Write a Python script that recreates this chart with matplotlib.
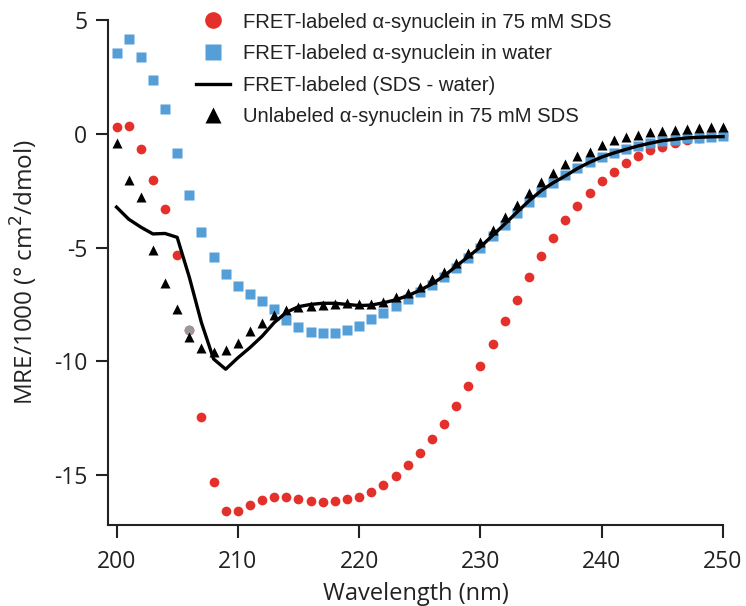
import matplotlib
matplotlib.use("Agg")
import matplotlib.pyplot as plt
from matplotlib.lines import Line2D

plt.rcParams['axes.unicode_minus'] = False

wavelength = list(range(200, 251))

mre_fret_sds = [0.32, 0.36, -0.66, -2.02, -3.29, -5.31, -8.63, -12.46, -15.32, -16.57,
                -16.57, -16.30, -16.11, -15.97, -15.97, -16.05, -16.16, -16.20, -16.13, -16.05,
                -15.98, -15.76, -15.43, -15.03, -14.58, -14.02, -13.41, -12.75, -11.97, -11.11,
                -10.19, -9.24, -8.24, -7.31, -6.29, -5.38, -4.56, -3.80, -3.16, -2.59,
                -2.09, -1.68, -1.29, -0.98, -0.73, -0.56, -0.40, -0.26, -0.18, -0.10, -0.05]

mre_fret_water = [3.54, 4.17, 3.39, 2.37, 1.08, -0.84, -2.71, -4.31, -5.41, -6.16,
                  -6.70, -7.06, -7.36, -7.71, -8.19, -8.48, -8.70, -8.77, -8.75, -8.63,
                  -8.44, -8.15, -7.87, -7.57, -7.25, -6.95, -6.65, -6.30, -5.90, -5.45,
                  -5.00, -4.50, -4.00, -3.50, -3.00, -2.55, -2.15, -1.80, -1.50, -1.22,
                  -1.00, -0.82, -0.66, -0.52, -0.42, -0.33, -0.26, -0.20, -0.16, -0.13, -0.10]

mre_difference = [-3.22, -3.75, -4.10, -4.40, -4.38, -4.55, -6.30, -8.30, -9.90, -10.35,
                  -9.85, -9.40, -8.90, -8.30, -7.85, -7.60, -7.50, -7.45, -7.45, -7.50,
                  -7.55, -7.53, -7.43, -7.30, -7.12, -6.88, -6.60, -6.25, -5.82, -5.40,
                  -4.97, -4.47, -3.97, -3.45, -2.95, -2.50, -2.15, -1.85, -1.52, -1.25,
                  -1.02, -0.84, -0.68, -0.53, -0.41, -0.30, -0.24, -0.18, -0.15, -0.13, -0.12]

mre_unlabeled_sds = [-0.41, -2.05, -2.78, -5.12, -6.55, -7.72, -8.95, -9.43, -9.61, -9.50,
                     -9.21, -8.67, -8.31, -7.97, -7.75, -7.60, -7.55, -7.52, -7.50, -7.43,
                     -7.46, -7.46, -7.38, -7.17, -6.99, -6.73, -6.40, -6.07, -5.70, -5.26,
                     -4.75, -4.21, -3.66, -3.14, -2.60, -2.12, -1.71, -1.32, -0.98, -0.78,
                     -0.51, -0.29, -0.15, -0.03, 0.07, 0.11, 0.18, 0.22, 0.26, 0.29, 0.32]

labels = ["FRET-labeled \u03b1-synuclein in 75 mM SDS",
          "FRET-labeled \u03b1-synuclein in water",
          "FRET-labeled (SDS - water)",
          "Unlabeled \u03b1-synuclein in 75 mM SDS"]

x_ticks = [200, 210, 220, 230, 240, 250]
y_ticks = [5, 0, -5, -10, -15]

RED = '#e4302a'
BLUE = '#559fd8'
INK = '#222222'

fig = plt.figure(figsize=(7.46, 6.06), dpi=100)
ax = fig.add_axes([0.1448, 0.1337, 0.8244, 0.833])

ax.plot(wavelength, mre_fret_sds, 'o', color=RED, ms=7, mec='none', zorder=2, clip_on=False)
ax.plot(wavelength[6], mre_fret_sds[6], 'o', color='#999999', ms=7, mec='none', zorder=2.5)
ax.plot(wavelength, mre_fret_water, 's', color=BLUE, ms=7, mec='none', zorder=3, clip_on=False)
ax.plot(wavelength, mre_difference, '-', color='black', lw=2.4, zorder=4, clip_on=False)
ax.plot(wavelength, mre_unlabeled_sds, '^', color='black', ms=7, mec='none', zorder=5, clip_on=False)

ax.set_xlim(199.3, 250)
ax.set_ylim(-17.2, 5)
ax.set_xticks(x_ticks)
ax.set_yticks(y_ticks)

for s in ['top', 'right']:
    ax.spines[s].set_visible(False)
for s in ['left', 'bottom']:
    ax.spines[s].set_linewidth(1.5)
    ax.spines[s].set_color(INK)

tick_font = 'Open Sans'
ax.tick_params(axis='both', direction='out', length=9, width=1.5, colors=INK, labelsize=16.5)
ax.tick_params(axis='x', pad=9)
ax.tick_params(axis='y', pad=6)
for lab in ax.get_xticklabels() + ax.get_yticklabels():
    lab.set_fontfamily(tick_font)
    lab.set_color(INK)

ax.set_xlabel('Wavelength (nm)', fontsize=17, family=tick_font, color=INK, labelpad=6)
ax.set_ylabel('MRE/1000 (\u00b0 cm$^2$/dmol)', fontsize=17.5, family=tick_font, color=INK, labelpad=10)

handles = [Line2D([], [], ls='none', marker='o', color=RED, ms=12, mec='none'),
           Line2D([], [], ls='none', marker='s', color=BLUE, ms=11, mec='none'),
           Line2D([], [], ls='-', color='black', lw=2.4),
           Line2D([], [], ls='none', marker='^', color='black', ms=11, mec='none')]
leg = fig.legend(handles, labels, loc='upper left', bbox_to_anchor=(0.2534, 0.991),
                 frameon=False, prop={'family': 'Liberation Sans', 'size': 14.6},
                 handlelength=1.65, handletextpad=0.64, labelspacing=0.62,
                 borderaxespad=0.0, borderpad=0.35)
for t in leg.get_texts():
    t.set_color(INK)

fig.savefig('out.png', dpi=100)
